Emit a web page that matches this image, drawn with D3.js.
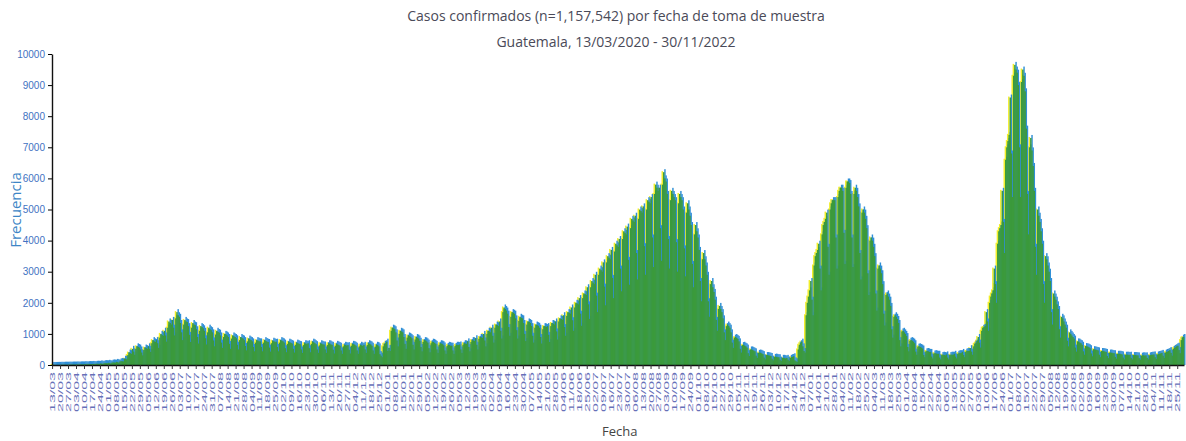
<!DOCTYPE html>
<html>
<head>
<meta charset="utf-8">
<script src="https://cdn.jsdelivr.net/npm/d3@7"></script>
<style>
  body { margin: 0; background: #fff; }
</style>
</head>
<body>
<div id="chart"></div>
<script>
// chart text
const titleLines = ["Casos confirmados (n=1,157,542) por fecha de toma de muestra",
                    "Guatemala, 13/03/2020 - 30/11/2022"];
const xTitle = "Fecha";
const yTitle = "Frecuencia";

// first day of the series, one value per day after that
const startDate = "2020-03-13";
const yTicks = [0, 1000, 2000, 3000, 4000, 5000, 6000, 7000, 8000, 9000, 10000];

// daily confirmed cases, one row per week
const cases = [
  1,1,1,2,3,4,3,
  6,5,4,8,10,9,8,
  10,10,8,12,15,14,13,
  16,14,11,17,20,19,18,
  24,22,17,25,30,28,27,
  34,29,22,35,40,38,36,
  50,43,33,52,60,58,55,
  70,58,45,72,82,78,75,
  100,90,70,110,125,120,115,
  200,200,180,320,400,380,360,
  520,430,330,520,600,580,560,
  500,400,310,480,560,540,520,
  600,520,420,700,800,760,740,
  800,700,550,880,1000,960,940,
  1100,950,750,1200,1400,1350,1300,
  1450,1200,950,1500,1700,1600,1550,
  1350,1050,800,1300,1450,1400,1380,
  1250,970,740,1200,1350,1300,1280,
  1150,900,690,1100,1250,1220,1180,
  1100,860,660,1050,1200,1150,1120,
  1050,790,600,980,1100,1060,1040,
  950,720,550,900,1000,980,950,
  900,680,520,850,950,920,900,
  860,650,500,800,900,870,850,
  800,610,470,760,850,820,800,
  760,580,440,720,800,780,760,
  760,580,440,720,800,770,750,
  740,560,430,700,780,760,740,
  750,580,440,720,800,780,760,
  720,540,410,680,750,730,710,
  690,520,400,650,720,700,680,
  670,500,390,640,700,690,670,
  700,540,410,680,750,730,700,
  670,500,390,630,700,680,660,
  660,500,390,640,700,690,660,
  650,490,370,620,680,660,640,
  620,470,360,600,650,640,620,
  640,490,370,620,680,670,650,
  620,470,360,600,650,630,610,
  650,500,390,640,700,680,660,
  620,470,360,590,650,640,600,
  350,300,250,600,680,700,750,
  450,550,450,1100,1200,1180,1150,
  1050,790,600,1000,1100,1080,1050,
  900,680,520,880,950,930,900,
  860,650,500,820,900,880,850,
  780,580,440,740,800,790,760,
  720,540,410,700,750,740,710,
  680,500,390,650,700,690,670,
  630,470,360,610,650,640,620,
  620,470,360,610,650,650,640,
  660,500,390,650,700,690,680,
  760,580,440,740,800,790,770,
  860,650,500,840,900,890,870,
  1000,790,600,1000,1100,1080,1050,
  1200,940,720,1200,1300,1280,1250,
  1400,1100,850,1700,1850,1800,1750,
  1650,1220,940,1550,1700,1680,1650,
  1500,1120,850,1420,1550,1520,1500,
  1350,1000,770,1300,1400,1380,1350,
  1250,940,720,1200,1300,1280,1260,
  1200,900,690,1150,1250,1240,1220,
  1250,970,740,1250,1350,1330,1300,
  1400,1080,820,1400,1500,1480,1450,
  1600,1220,940,1580,1700,1680,1650,
  1850,1440,1100,1850,2000,1980,1950,
  2150,1650,1260,2150,2300,2280,2250,
  2500,1950,1480,2500,2700,2650,2600,
  2900,2230,1700,2900,3100,3050,3000,
  3300,2520,1920,3300,3500,3450,3400,
  3700,2800,2150,3650,3900,3850,3800,
  4050,3100,2370,4050,4300,4250,4200,
  4450,3380,2580,4400,4700,4650,4600,
  4800,3600,2750,4700,5000,4950,4900,
  5100,3820,2900,5000,5300,5250,5200,
  5400,4100,3150,5500,5800,5700,5600,
  5700,4400,3350,5800,6200,6000,5900,
  5500,4050,3100,5300,5600,5500,5400,
  5300,3950,3000,5200,5500,5400,5300,
  5000,3750,2850,4900,5200,5000,4800,
  4500,3250,2500,4200,4500,4300,4100,
  3700,2700,2050,3400,3600,3400,3200,
  2900,2050,1550,2600,2700,2500,2350,
  2100,1450,1100,1800,1900,1800,1700,
  1500,1050,800,1250,1300,1250,1200,
  1050,720,550,880,900,870,840,
  760,520,400,640,650,620,600,
  560,380,290,500,500,480,460,
  440,300,230,390,400,390,370,
  350,240,180,320,320,310,300,
  290,200,150,260,270,260,250,
  250,170,130,230,230,220,210,
  230,170,130,230,250,260,280,
  150,120,100,500,650,700,750,
  600,450,400,1600,2000,2200,2400,
  2700,2100,1600,3200,3500,3600,3700,
  3900,3100,2400,4200,4500,4600,4700,
  4900,3800,2900,5000,5200,5300,5300,
  5300,4100,3100,5400,5600,5700,5700,
  5600,4250,3250,5700,5900,5900,5850,
  5500,4100,3150,5500,5700,5600,5400,
  5100,3600,2750,4900,5000,4900,4700,
  4400,2950,2250,4000,4100,4000,3800,
  3500,2300,1750,3100,3200,3100,2950,
  2600,1650,1270,2250,2300,2200,2100,
  1900,1150,880,1550,1600,1550,1480,
  1350,800,600,1080,1100,1050,1000,
  930,580,440,780,800,780,750,
  700,430,330,590,600,580,560,
  530,320,250,440,450,440,420,
  420,270,210,370,380,370,360,
  360,240,180,320,330,320,310,
  340,240,180,320,330,330,330,
  360,270,210,360,380,380,380,
  420,320,250,430,450,450,450,
  540,430,330,600,680,720,780,
  900,720,560,1100,1200,1220,1250,
  1700,1400,1100,2000,2200,2300,2400,
  3100,2600,2000,3900,4300,4400,4500,
  5600,4600,3600,6600,7000,7200,7400,
  8600,6800,5400,9300,9650,9500,9400,
  9000,7000,5400,9100,9500,9300,8800,
  7600,5500,4200,7000,7300,6900,6400,
  5600,3800,2900,5000,4800,4600,4300,
  3900,2600,2000,3500,3400,3200,3000,
  2700,1700,1300,2300,2200,2100,1950,
  1800,1150,880,1550,1500,1400,1300,
  1200,780,600,1050,1000,950,900,
  850,560,430,760,750,720,700,
  650,440,330,610,600,590,570,
  540,370,280,510,500,490,480,
  470,330,250,450,450,440,430,
  420,290,220,400,400,390,380,
  380,260,200,360,360,360,350,
  340,240,180,330,330,330,320,
  330,230,180,320,320,320,310,
  310,220,170,300,310,310,300,
  310,230,180,310,320,330,330,
  340,250,190,340,350,360,370,
  390,300,230,400,420,430,450,
  480,390,300,520,550,570,600,
  620,480,380,800,880,900
];

// set the dimensions and margins of the graph
const margin = {top: 54, right: 2, bottom: 76, left: 52},
      width = 1186 - margin.left - margin.right,
      height = 441 - margin.top - margin.bottom;

const svg = d3.select("#chart")
  .append("svg")
  .attr("width", width + margin.left + margin.right)
  .attr("height", height + margin.top + margin.bottom)
  .style("font-family", "'Open Sans', sans-serif");

const g = svg.append("g")
  .attr("transform", `translate(${margin.left}, ${margin.top})`);

// one category per day
const fmt = d3.timeFormat("%d/%m/%Y");
const day0 = d3.timeParse("%Y-%m-%d")(startDate);
const data = cases.map((v, i) => ({date: fmt(d3.timeDay.offset(day0, i)), value: v}));

const x = d3.scaleBand()
  .domain(data.map(d => d.date))
  .range([0, width])
  .padding(0);

const y = d3.scaleLinear()
  .domain([0, 10000])
  .range([height, 0]);

// bars, drawn three times to get the coloured fringes of the print
const layers = [
  {color: "#f2ee2a", dx: -1.5, dy: -1},
  {color: "#2f8fd6", dx: 1.2, dy: -3},
  {color: "#3b9a3c", dx: 0, dy: 0}
];
layers.forEach(l => {
  g.append("g")
    .selectAll("rect")
    .data(data)
    .join("rect")
    .attr("x", d => x(d.date) + l.dx)
    .attr("y", d => y(d.value) + l.dy)
    .attr("width", x.bandwidth() + 0.3)
    .attr("height", d => Math.max(0, height - y(d.value) - l.dy))
    .attr("fill", l.color);
});

// x axis, a tick every week
const weekly = data.filter((d, i) => i % 7 === 0).map(d => d.date);
const xAxis = g.append("g")
  .attr("transform", `translate(0, ${height})`)
  .call(d3.axisBottom(x).tickValues(weekly).tickSize(4).tickSizeOuter(0).tickFormat(d => d.slice(0, 5)));
xAxis.select(".domain").attr("stroke", "#111").attr("stroke-width", 1.6);
xAxis.selectAll(".tick line").attr("stroke", "#333");
xAxis.selectAll("text")
  .attr("transform", "rotate(-90)")
  .attr("text-anchor", "end")
  .attr("x", -7)
  .attr("y", 0)
  .attr("dy", "0.35em")
  .attr("font-size", 7)
  .attr("textLength", 40)
  .attr("lengthAdjust", "spacingAndGlyphs")
  .attr("fill", "#6670b8");

// y axis
const yAxis = g.append("g")
  .call(d3.axisLeft(y).tickValues(yTicks).tickFormat(d3.format("d")).tickSize(4).tickSizeOuter(0));
yAxis.select(".domain").attr("stroke", "#111").attr("stroke-width", 1.4);
yAxis.selectAll("text")
  .attr("font-size", 10)
  .attr("fill", "#3f72c2");

// titles
svg.selectAll(".title")
  .data(titleLines)
  .join("text")
  .attr("class", "title")
  .attr("x", 616)
  .attr("y", (d, i) => 21 + i * 26)
  .attr("text-anchor", "middle")
  .attr("font-size", 14)
  .attr("fill", "#4a4a58")
  .text(d => d);

svg.append("text")
  .attr("x", 602)
  .attr("y", 436)
  .attr("font-size", 13)
  .attr("fill", "#444")
  .text(xTitle);

svg.append("text")
  .attr("transform", "rotate(-90)")
  .attr("x", -210)
  .attr("y", 21)
  .attr("text-anchor", "middle")
  .attr("font-size", 15)
  .attr("fill", "#3d86c6")
  .text(yTitle);
</script>
</body>
</html>
